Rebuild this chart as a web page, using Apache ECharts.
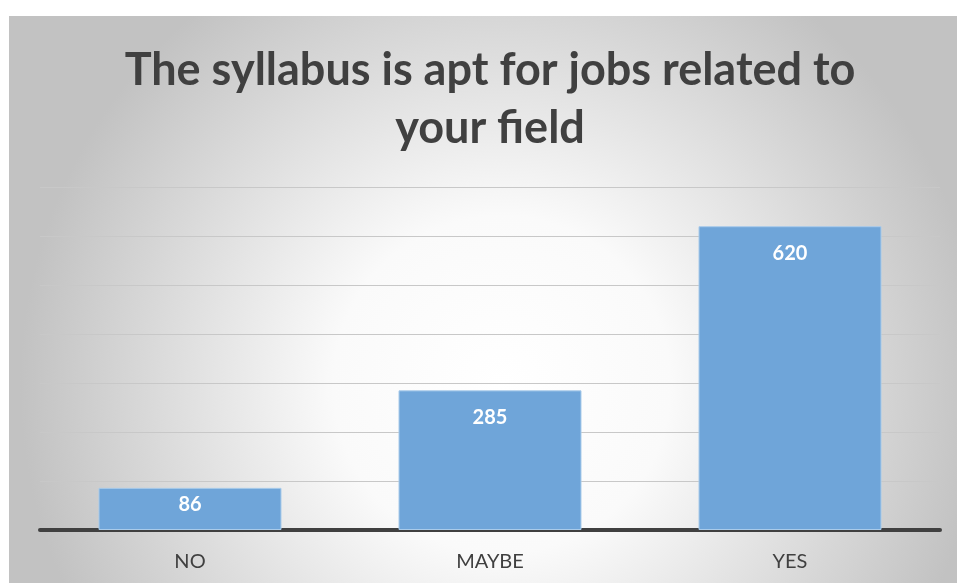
<!DOCTYPE html>
<html>
<head>
<meta charset="utf-8">
<script src="https://cdn.jsdelivr.net/npm/echarts@6/dist/echarts.min.js"></script>
<style>
html,body{margin:0;padding:0;background:#fff;width:957px;height:583px;overflow:hidden;}
#c{position:absolute;left:9px;top:16px;width:948px;height:567px;}
</style>
</head>
<body>
<div id="c"></div>
<script>
const categories = ["NO", "MAYBE", "YES"];
const values = [86, 285, 620];
const labelOffsets = [7, 17, 17];
const titleText = "The syllabus is apt for jobs related to\nyour field";

const chart = echarts.init(document.getElementById('c'), null, {renderer: 'canvas'});
chart.setOption({
  animation: false,
  backgroundColor: {
    type: 'radial', x: 0.52, y: 0.65, r: 0.85,
    colorStops: [{offset: 0, color: '#ffffff'}, {offset: 0.35, color: '#fafafa'}, {offset: 1, color: '#c2c2c2'}]
  },
  title: {
    text: titleText,
    left: 476,
    top: 20,
    textAlign: 'center',
    textStyle: {fontFamily: 'Lato', fontWeight: 'bold', fontSize: 45, color: '#404040', lineHeight: 58}
  },
  grid: {left: 31, right: 17, top: 171, bottom: 53},
  xAxis: {
    type: 'category',
    data: categories,
    axisLine: {show: true, lineStyle: {color: '#404040', width: 4}},
    axisTick: {show: false},
    axisLabel: {fontFamily: 'Lato', fontSize: 20, color: '#404040', margin: 22}
  },
  yAxis: {
    type: 'value', min: 0, max: 700, interval: 100,
    axisLabel: {show: false},
    axisLine: {show: false},
    axisTick: {show: false},
    splitLine: {lineStyle: {color: '#c8c8c8', width: 1}}
  },
  series: [{
    type: 'bar',
    data: values.map((v, i) => ({value: v, label: {distance: labelOffsets[i]}})),
    barWidth: '61%',
    itemStyle: {color: '#6fa5d9', borderColor: '#a9cbea', borderWidth: 1},
    label: {
      show: true, position: 'insideTop',
      fontFamily: 'Lato', fontWeight: 'bold', fontSize: 20, color: '#ffffff'
    }
  }]
});
</script>
</body>
</html>
